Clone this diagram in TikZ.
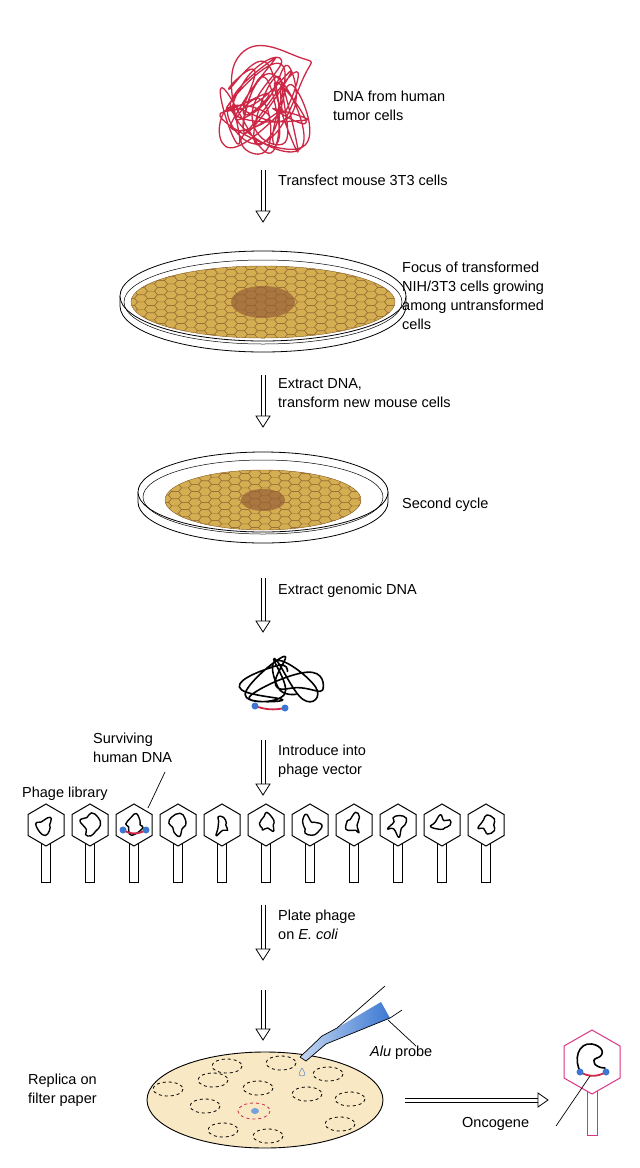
\documentclass[tikz,border=0pt]{standalone}
\usepackage{fontspec}
\setmainfont{Liberation Sans}
\usetikzlibrary{calc}
\definecolor{dnared}{RGB}{205,40,70}
\definecolor{celltan}{RGB}{205,160,95}
\definecolor{cellline}{RGB}{140,100,50}
\definecolor{focusbrown}{RGB}{150,95,55}
\definecolor{paper}{RGB}{248,232,195}
\definecolor{probeblue}{RGB}{60,120,210}
\definecolor{onco}{RGB}{220,50,130}
\tikzset{
  label/.style={anchor=north west,inner sep=0pt,align=left,font=\fontsize{14.5}{19}\selectfont},
  strand/.style={line width=1.6pt,line cap=round,line join=round},
  plaque/.style={dashed,line width=0.8pt}
}
\newcommand\steparrow[3]{%
  \draw[line width=0.8pt] (#1-2,#2) -- (#1-2,#3-11) (#1+2,#2) -- (#1+2,#3-11);
  \draw[line width=0.8pt,fill=white] (#1-7,#3-11) -- (#1+7,#3-11) -- (#1,#3) -- cycle;}
\newcommand\phage[3]{%
  \draw[#3,line width=1pt,fill=white] (#1-4.5,#2+18) rectangle (#1+4.5,#2+57);
  \draw[#3,line width=1pt,fill=white] (#1,#2-21) -- (#1+18,#2-10.5) -- (#1+18,#2+10.5)
    -- (#1,#2+21) -- (#1-18,#2+10.5) -- (#1-18,#2-10.5) -- cycle;}
\newcommand\cells[5]{% x y rx ry focus
  \begin{scope}
    \clip (#1,#2) ellipse [x radius=#3,y radius=#4];
    \fill[celltan] (#1,#2) ellipse [x radius=#3,y radius=#4];
    \foreach \r in {0,...,22}{
      \foreach \c in {0,...,14}{
        \pgfmathsetmacro\hx{#1-#3+\c*20+mod(\r,2)*10}
        \pgfmathsetmacro\hy{#2-#4+\r*3.6}
        \draw[cellline,line width=0.4pt,fill=celltan!85!yellow]
          (\hx,\hy) +(-6.5,0) -- +(-3.5,-3.6) -- +(3.5,-3.6)
          -- +(6.5,0) -- +(3.5,3.6) -- +(-3.5,3.6) -- cycle;
      }
    }
    \fill[focusbrown,opacity=0.7] (#1,#2) ellipse [x radius=#5,y radius=#5/2];
  \end{scope}
  \draw[cellline,line width=0.4pt] (#1,#2) ellipse [x radius=#3,y radius=#4];}

\begin{document}
\begin{tikzpicture}[x=1pt,y=-1pt]
  \useasboundingbox (0,0) rectangle (640,1168);

  % tumor DNA
  \pgfmathsetseed{7}
  \draw[dnared,strand,line width=1.3pt] plot[smooth cycle,tension=1,samples=60,domain=0:59]
    ({265+45*rand},{105+48*rand});
  \node[label] (tumor) at (333,91) {DNA from human\\tumor cells};

  \steparrow{263}{170}{222}
  \node[label] (transfect) at (278,175) {Transfect mouse 3T3 cells};

  % first dish
  \draw[line width=0.8pt,fill=white] (120,296) -- (120,306) arc[start angle=180,end angle=0,x radius=143,y radius=46] -- (406,296);
  \draw[line width=0.8pt,fill=white] (263,296) ellipse [x radius=143,y radius=45];
  \draw[line width=0.5pt] (263,302) ellipse [x radius=139,y radius=42];
  \cells{263}{302}{132}{36}{32}
  \node[label] (focus) at (402,262) {Focus of transformed\\NIH/3T3 cells growing\\among untransformed\\cells};

  \steparrow{263}{375}{427}
  \node[label] (extract) at (278,378) {Extract DNA,\\transform new mouse cells};

  % second dish
  \draw[line width=0.8pt,fill=white] (138,492) -- (138,502) arc[start angle=180,end angle=0,x radius=125,y radius=41] -- (388,492);
  \draw[line width=0.8pt,fill=white] (263,492) ellipse [x radius=125,y radius=40];
  \draw[line width=0.5pt] (263,497) ellipse [x radius=120,y radius=37];
  \cells{263}{500}{98}{30}{22}
  \node[label] (second) at (402,498) {Second cycle};

  \steparrow{263}{578}{632}
  \node[label] (genomic) at (278,584) {Extract genomic DNA};

  % genomic DNA
  \pgfmathsetseed{11}
  \draw[strand] plot[smooth,tension=0.9,samples=18,domain=0:17]
    ({262+62*rand},{680+28*rand});
  \draw[dnared,line width=1.8pt] (255,706) to[bend right=15] (285,708);
  \fill[probeblue] (255,706) circle (3.5) (285,708) circle (3.5);

  \steparrow{263}{740}{795}
  \node[label] (introduce) at (278,745) {Introduce into\\phage vector};
  \node[label] (surviving) at (93,733) {Surviving\\human DNA};
  \node[label] (library) at (22,787) {Phage library};
  \draw[line width=0.7pt] (165,772) -- (148,808);

  % phage library
  \pgfmathsetseed{5}
  \foreach \n in {0,...,10}{
    \pgfmathsetmacro\px{46+44*\n}
    \phage{\px}{825}{black}
    \draw[strand,line width=1.4pt] plot[smooth cycle,tension=0.8,samples=9,domain=0:320]
      ({\px+(3+10*rnd)*cos(\x)},{825+(3+10*rnd)*sin(\x)});
  }
  \draw[dnared,line width=1.8pt] (123,830) to[bend right=30] (146,830);
  \fill[probeblue] (123,830) circle (3.5) (146,830) circle (3.5);

  \steparrow{263}{905}{960}
  \node[label] (plate) at (278,910) {Plate phage\\on \textit{E. coli}};
  \steparrow{263}{990}{1040}

  % filter replica
  \draw[line width=0.9pt,fill=paper] (265,1100) ellipse [x radius=118,y radius=48];
  \foreach \qx/\qy in {227/1066,281/1063,328/1074,168/1089,213/1080,258/1088,307/1094,
    350/1099,205/1106,340/1124,223/1130,268/1136}{
    \draw[plaque] (\qx,\qy) ellipse [x radius=15,y radius=7];
  }
  \draw[plaque,dnared] (254,1111) ellipse [x radius=16,y radius=8];
  \fill[probeblue!70] (255,1111) ellipse [x radius=4,y radius=3];
  \draw[probeblue] (302,1068) .. controls (298,1075) .. (302,1076) .. controls (306,1075) .. (302,1068);
  \node[label] (replica) at (28,1074) {Replica on\\filter paper};

  % probe pipette
  \shade[left color=probeblue!30,right color=probeblue] (300,1057) -- (306,1061) -- (326,1044)
    -- (390,1018) -- (381,1002) -- (337,1028) -- (322,1036) -- cycle;
  \draw[line width=0.7pt] (300,1057) -- (306,1061) -- (326,1044) -- (390,1018)
    (300,1057) -- (322,1036) -- (337,1028) -- (385,986)
    (390,1018) -- (402,1010);
  \draw[line width=0.7pt] (388,1020) -- (416,1046);
  \node[label] (probe) at (370,1046) {\textit{Alu} probe};

  \draw[line width=0.8pt] (405,1098) -- (538,1098) (405,1102) -- (538,1102);
  \draw[line width=0.8pt,fill=white] (538,1093) -- (538,1107) -- (548,1100) -- cycle;

  % isolated phage
  \draw[onco,line width=1pt,fill=white] (587,1085) rectangle (597,1135);
  \draw[onco,line width=1pt,fill=white] (592,1030) -- (620,1046) -- (620,1078)
    -- (592,1094) -- (564,1078) -- (564,1046) -- cycle;
  \draw[strand] (581,1073) .. controls (573,1060) and (578,1042) .. (592,1044)
    .. controls (603,1046) and (606,1055) .. (597,1058) .. controls (590,1060) and (595,1068) .. (605,1068);
  \draw[dnared,line width=1.8pt] (580,1072) to[bend right=30] (606,1072);
  \fill[probeblue] (580,1072) circle (3.5) (606,1072) circle (3.5);
  \node[label] (oncogene) at (462,1117) {Oncogene};
  \draw[line width=0.7pt] (556,1126) -- (590,1076);
\end{tikzpicture}
\end{document}
